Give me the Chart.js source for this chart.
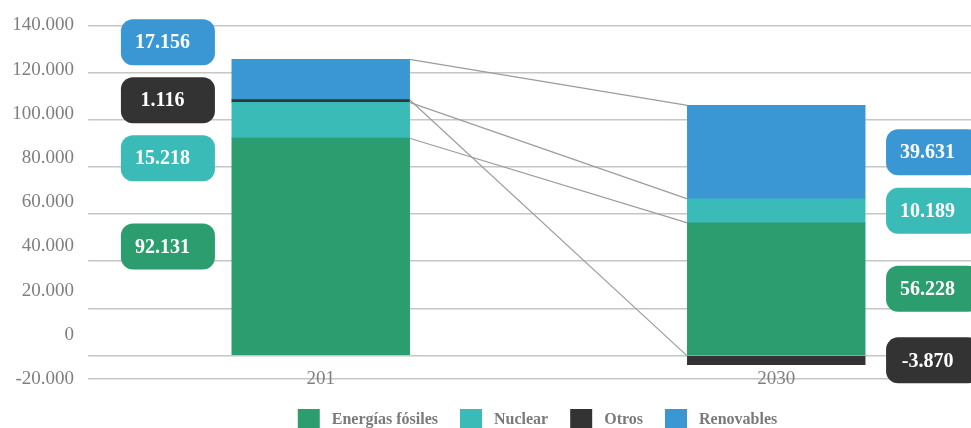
<!DOCTYPE html>
<html>
<head>
<meta charset="utf-8">
<script src="https://cdn.jsdelivr.net/npm/chart.js"></script>
<style>
  html, body { margin: 0; padding: 0; background: #fff; overflow: hidden; }
  #wrap { width: 971px; height: 428px; overflow: hidden; }
</style>
</head>
<body>
<div id="wrap"><canvas id="energyChart" width="1075" height="450"></canvas></div>
<script>
// Years on the x axis and the four stacked series
const years = ['201', '2030'];
const seriesNames = ['Energías fósiles', 'Nuclear', 'Otros', 'Renovables'];
const fossil = [92131, 56228];
const nuclear = [15218, 10189];
const others = [1116, -3870];
const renewables = [17156, 39631];

// Tick values: labelled axis on the left, grid lines from the bar axis
const labelTicks = [140000, 120000, 100000, 80000, 60000, 40000, 20000, 0, -20000];
const gridTicks = [140000, 120000, 100000, 80000, 60000, 40000, 20000, 0, -10000];

const colors = ['#2b9d6f', '#3bbbb8', '#333333', '#3a97d3'];
const serif = '"Liberation Serif", "Times New Roman", serif';

// 92131 -> "92.131"
function fmt(v) {
    const s = String(Math.abs(v)).replace(/\B(?=(\d{3})+(?!\d))/g, '.');
    return (v < 0 ? '-' : '') + s;
}

// Push label boxes apart so they keep a minimum vertical gap
function spread(items, gap) {
    const groups = [];
    items.sort((p, q) => p.want - q.want).forEach(it => {
        groups.push({ members: [it], top: it.want });
        while (groups.length > 1) {
            const cur = groups[groups.length - 1];
            const prev = groups[groups.length - 2];
            if (prev.top + prev.members.length * gap <= cur.top) break;
            const merged = prev.members.concat(cur.members);
            const top = merged.reduce((s, m, k) => s + m.want - k * gap, 0) / merged.length;
            groups.splice(-2, 2, { members: merged, top: top });
        }
    });
    groups.forEach(g => g.members.forEach((m, k) => { m.y = g.top + k * gap; }));
}

// Thin grey lines joining the top of each segment between the two bars
const connectorPlugin = {
    id: 'connectors',
    afterDatasetsDraw(chart) {
        const ctx = chart.ctx;
        ctx.save();
        ctx.strokeStyle = '#9c9c9c';
        ctx.lineWidth = 1.2;
        chart.data.datasets.forEach((ds, i) => {
            const [a, b] = chart.getDatasetMeta(i).data;
            ctx.beginPath();
            ctx.moveTo(a.x + a.width / 2, Math.min(a.y, a.base));
            ctx.lineTo(b.x - b.width / 2, Math.min(b.y, b.base));
            ctx.stroke();
        });
        ctx.restore();
    }
};

// Rounded value boxes: left of the first bar, right of the second
const valueBoxPlugin = {
    id: 'valueBoxes',
    afterDatasetsDraw(chart) {
        const ctx = chart.ctx;
        const boxW = 94, boxH = 46;
        ctx.save();
        chart.data.labels.forEach((_, col) => {
            const items = chart.data.datasets.map((ds, i) => {
                const el = chart.getDatasetMeta(i).data[col];
                return { value: ds.data[col], color: ds.backgroundColor, want: (el.y + el.base) / 2, el: el };
            });
            spread(items, 58);
            items.forEach(it => {
                const el = it.el;
                const left = col === 0
                    ? el.x - el.width / 2 - 17 - boxW
                    : el.x + el.width / 2 + 21;
                ctx.fillStyle = it.color;
                ctx.beginPath();
                ctx.roundRect(left, it.y - boxH / 2, boxW, boxH, 12);
                ctx.fill();
                ctx.fillStyle = '#ffffff';
                ctx.font = 'bold 20px ' + serif;
                ctx.textAlign = 'center';
                ctx.textBaseline = 'middle';
                ctx.fillText(fmt(it.value), left + 41.5, it.y + 1);
            });
        });
        ctx.restore();
    }
};

const seriesValues = [fossil, nuclear, others, renewables];

const energyChart = new Chart(document.getElementById('energyChart'), {
    type: 'bar',
    data: {
        labels: years,
        datasets: seriesNames.map((name, i) => ({
            label: name,
            data: seriesValues[i],
            backgroundColor: colors[i],
            borderWidth: 0,
            inflateAmount: 0.4,
            categoryPercentage: 1,
            barPercentage: 0.39
        }))
    },
    options: {
        responsive: false,
        animation: false,
        layout: { padding: { top: 23, bottom: 9, left: 0, right: 0 } },
        plugins: {
            tooltip: { enabled: false },
            legend: {
                position: 'bottom',
                labels: {
                    color: '#7a7a7a',
                    font: { family: serif, size: 16, weight: 'bold' },
                    boxWidth: 22,
                    boxHeight: 22,
                    padding: 22,
                    generateLabels: chart => Chart.defaults.plugins.legend.labels.generateLabels(chart)
                        .map(l => ({ ...l, text: ' ' + l.text, lineWidth: 0 }))
                }
            }
        },
        scales: {
            x: {
                stacked: true,
                grid: { display: false, drawTicks: false },
                border: { display: false },
                // mirrored so the year sits on the bottom rule
                ticks: { color: '#7f7f7f', font: { family: serif, size: 19 }, mirror: true, padding: -11 },
                afterFit: axis => { axis.height = 8; }
            },
            y: {
                stacked: true,
                weight: 0,
                min: -10000,
                max: 140000,
                afterBuildTicks: axis => { axis.ticks = gridTicks.map(v => ({ value: v })); },
                ticks: { display: false },
                grid: { color: '#c6c6c6', lineWidth: 1.5, tickLength: 5 },
                border: { display: false },
                afterFit: axis => { axis.width = 5; }
            },
            yLabels: {
                position: 'left',
                weight: 1,
                min: -20000,
                max: 140000,
                afterBuildTicks: axis => { axis.ticks = labelTicks.map(v => ({ value: v })); },
                ticks: {
                    color: '#7f7f7f',
                    font: { family: serif, size: 19 },
                    padding: 14,
                    callback: v => fmt(v)
                },
                grid: { display: false, drawTicks: false },
                border: { display: false },
                afterFit: axis => { axis.width = 88; }
            },
            rightPad: {
                position: 'right',
                display: true,
                ticks: { display: false },
                grid: { display: false, drawTicks: false },
                border: { display: false },
                afterFit: axis => { axis.width = 71; }
            }
        }
    },
    plugins: [connectorPlugin, valueBoxPlugin]
});
</script>
</body>
</html>
